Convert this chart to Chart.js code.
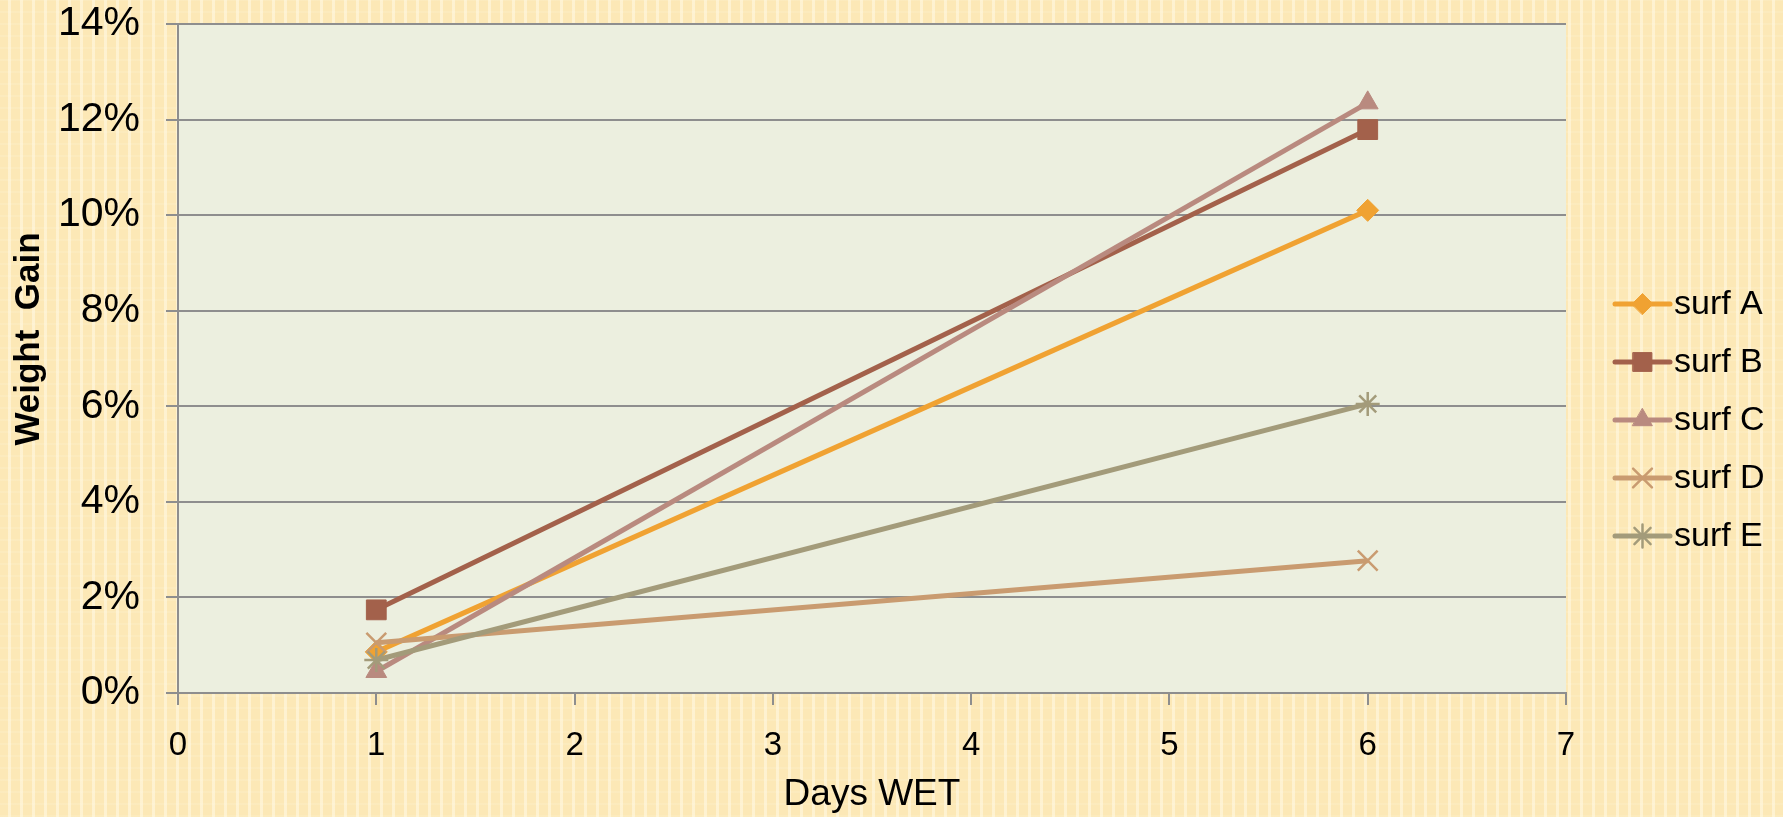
<!DOCTYPE html>
<html>
<head>
<meta charset="utf-8">
<script src="https://cdn.jsdelivr.net/npm/chart.js@4"></script>
<style>
  html, body { margin: 0; padding: 0; }
  body {
    width: 1783px; height: 817px; overflow: hidden;
    background-color: #fce8b6;
    background-image:
      repeating-linear-gradient(0deg, rgba(255,250,230,0.15) 0 2px, transparent 2px 12px),
      repeating-linear-gradient(90deg, transparent 0 8px, rgba(255,246,220,0.7) 8px 11px, transparent 11px 12px);
  }
  #wrap { position: absolute; left: 0; top: 0; width: 1783px; height: 817px; }
</style>
</head>
<body>
<div id="wrap"><canvas id="chart"></canvas></div>
<script>
// values (weight gain in %)
const days = [1, 6];
const surfA = [0.86, 10.1];
const surfB = [1.74, 11.79];
const surfC = [0.45, 12.35];
const surfD = [1.05, 2.77];
const surfE = [0.69, 6.05];
const seriesNames = ["surf A", "surf B", "surf C", "surf D", "surf E"];
const xTicks = [0, 1, 2, 3, 4, 5, 6, 7];
const yTicks = [0, 2, 4, 6, 8, 10, 12, 14];
const yTitle = "Weight  Gain";
const xTitle = "Days WET";

const colors = ["#f0a232", "#a3614b", "#b98a7f", "#c99b70", "#a39b7a"];
const styles = ["rectRot", "rect", "triangle", "crossRot", "star"];
const radii = [11, 14, 12, 14, 12];
const allValues = [surfA, surfB, surfC, surfD, surfE];

const gridColor = "#8e8e8e";
const font = "'Liberation Sans', Arial, sans-serif";

const plotBg = {
  id: 'plotBg',
  beforeDraw(chart) {
    const a = chart.chartArea, ctx = chart.ctx;
    ctx.save();
    ctx.fillStyle = "#ecefdf";
    ctx.fillRect(a.left, a.top, a.right - a.left, a.bottom - a.top);
    ctx.restore();
  }
};

// y title drawn by hand: in the original it sits a bit above the middle
const yTitlePlugin = {
  id: 'yTitlePlugin',
  afterDraw(chart) {
    const ctx = chart.ctx;
    ctx.save();
    ctx.translate(29, 339);
    ctx.rotate(-Math.PI / 2);
    ctx.fillStyle = "#000";
    ctx.font = "bold 35px " + font;
    ctx.textAlign = "center";
    ctx.textBaseline = "middle";
    ctx.fillText(yTitle, 0, 0);
    ctx.restore();
  }
};

// legend drawn by hand to sit where the original one is
const sideLegend = {
  id: 'sideLegend',
  afterDraw(chart) {
    const ctx = chart.ctx;
    const x0 = 1615, x1 = 1670, top = 304, step = 58;
    ctx.save();
    chart.data.datasets.forEach((ds, i) => {
      const y = top + i * step;
      ctx.strokeStyle = ds.borderColor;
      ctx.lineWidth = 5;
      ctx.lineCap = "round";
      ctx.beginPath();
      ctx.moveTo(x0, y);
      ctx.lineTo(x1, y);
      ctx.stroke();
      if (Chart.helpers && Chart.helpers.drawPoint) {
        ctx.fillStyle = ds.pointBackgroundColor;
        ctx.strokeStyle = ds.pointBorderColor;
        ctx.lineWidth = ds.pointBorderWidth;
        Chart.helpers.drawPoint(ctx, {
          pointStyle: ds.pointStyle,
          radius: ds.pointRadius * 0.95,
          borderWidth: ds.pointBorderWidth,
          rotation: 0
        }, (x0 + x1) / 2, y);
      }
      ctx.fillStyle = "#000";
      ctx.font = "34px " + font;
      ctx.textBaseline = "middle";
      ctx.textAlign = "left";
      ctx.fillText(ds.label, x1 + 4, y + 1);
    });
    ctx.restore();
  }
};

new Chart(document.getElementById("chart"), {
  type: 'line',
  data: {
    datasets: seriesNames.map((name, i) => ({
      label: name,
      data: days.map((d, j) => ({ x: d, y: allValues[i][j] })),
      borderColor: colors[i],
      backgroundColor: colors[i],
      borderWidth: 5,
      pointStyle: styles[i],
      pointRadius: radii[i],
      pointHoverRadius: radii[i],
      pointBackgroundColor: colors[i],
      pointBorderColor: colors[i],
      pointBorderWidth: (i >= 3) ? 2.5 : 1,
      order: 4 - i,
      fill: false,
      tension: 0
    }))
  },
  options: {
    responsive: true,
    maintainAspectRatio: false,
    animation: false,
    layout: { padding: { left: 0, right: 217, top: 24, bottom: 0 } },
    plugins: {
      legend: { display: false },
      tooltip: { enabled: false }
    },
    scales: {
      x: {
        type: 'linear',
        min: 0, max: 7,
        afterBuildTicks(s) { s.ticks = xTicks.map(v => ({ value: v })); },
        afterFit(s) { s.height = 124; s.paddingLeft = 0; s.paddingRight = 0; },
        grid: { drawOnChartArea: false, drawTicks: true, tickLength: 12, color: gridColor, lineWidth: 2 },
        border: { color: gridColor, width: 2 },
        ticks: { color: "#000", font: { family: font, size: 33 }, padding: 21 },
        title: { display: true, text: xTitle, color: "#000", font: { family: font, size: 37 }, padding: { top: 0, bottom: 0 } }
      },
      y: {
        min: 0, max: 14,
        afterBuildTicks(s) { s.ticks = yTicks.map(v => ({ value: v })); },
        afterFit(s) { s.width = 178; s.paddingTop = 0; s.paddingBottom = 0; },
        grid: { drawTicks: true, tickLength: 12, color: gridColor, lineWidth: 2 },
        border: { color: gridColor, width: 2 },
        ticks: { color: "#000", font: { family: font, size: 41 }, padding: 26, callback: v => v + "%" },
        title: { display: false }
      }
    }
  },
  plugins: [plotBg, yTitlePlugin, sideLegend]
});
</script>
</body>
</html>
